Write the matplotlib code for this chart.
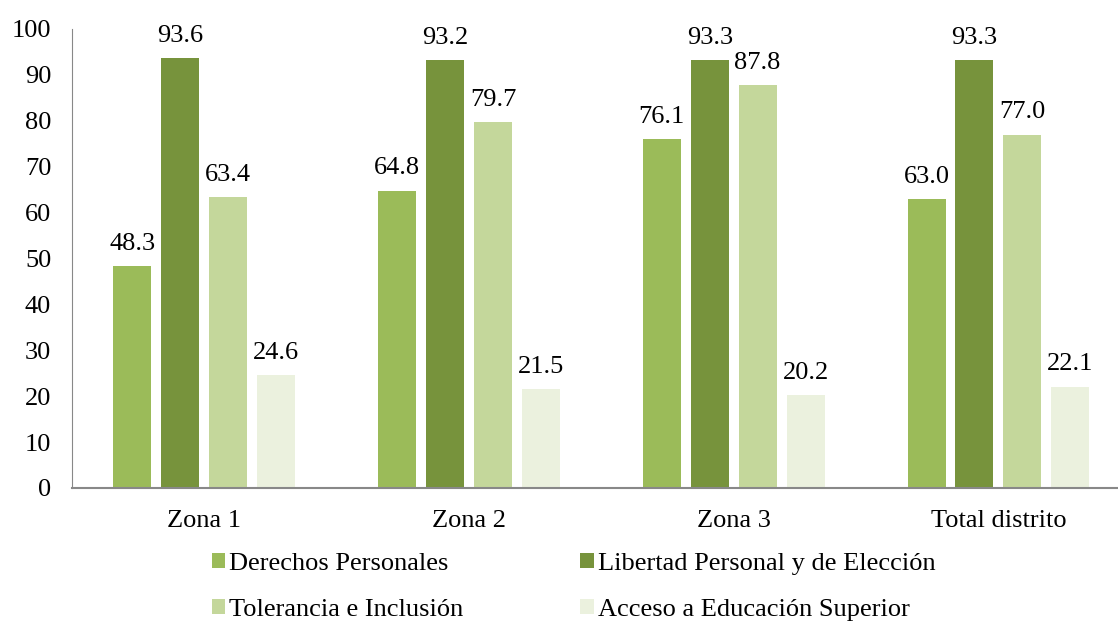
import matplotlib.pyplot as plt
import numpy as np

zonas = ["Zona 1", "Zona 2", "Zona 3", "Total distrito"]
series = ["Derechos Personales", "Libertad Personal y de Elección",
          "Tolerancia e Inclusión", "Acceso a Educación Superior"]
derechos = [48.3, 64.8, 76.1, 63.0]
libertad = [93.6, 93.2, 93.3, 93.3]
tolerancia = [63.4, 79.7, 87.8, 77.0]
acceso = [24.6, 21.5, 20.2, 22.1]
colores = ["#9BBB59", "#77933C", "#C4D79B", "#EBF1DE"]

plt.rcParams['font.family'] = ['Liberation Serif', 'DejaVu Serif']
fs = 19

fig = plt.figure(figsize=(11.18, 6.23), dpi=100)
ax = fig.add_axes([0.0644, 0.2167, 0.947, 0.7368])

x = np.arange(len(zonas))
w = 0.1436
paso = 0.181
handles = []
for i, (vals, nom) in enumerate(zip([derechos, libertad, tolerancia, acceso], series)):
    pos = x + (i - 1.5) * paso
    bars = ax.bar(pos, vals, w, color=colores[i], label=nom)
    handles.append(bars)
    for b, v in zip(bars, vals):
        ax.annotate(f"{v:.1f}", (b.get_x() + b.get_width() / 2, v),
                    xytext=(0, 8), textcoords="offset points",
                    ha="center", va="bottom", fontsize=fs)

ax.set_xlim(-0.5, 3.5)
ax.set_ylim(0, 100)
ax.set_yticks(range(0, 101, 10))
ax.set_xticks(x)
ax.set_xticklabels(zonas)
ax.tick_params(axis="both", length=0, labelsize=fs)
ax.tick_params(axis="x", pad=16)
ax.tick_params(axis="y", pad=15)
for s in ["top", "right"]:
    ax.spines[s].set_visible(False)
ax.spines["left"].set_color("#888888")
ax.spines["bottom"].set_color("#888888")
ax.spines["bottom"].set_linewidth(1.5)

orden = [0, 2, 1, 3]
fig.legend([handles[i] for i in orden], [series[i] for i in orden],
           loc="upper left", bbox_to_anchor=(0.168, 0.15), ncol=2, frameon=False,
           fontsize=fs, handlelength=0.5, handleheight=0.5, handletextpad=0.15,
           columnspacing=4.45, labelspacing=0.9)

fig.savefig("out.png", dpi=100)
